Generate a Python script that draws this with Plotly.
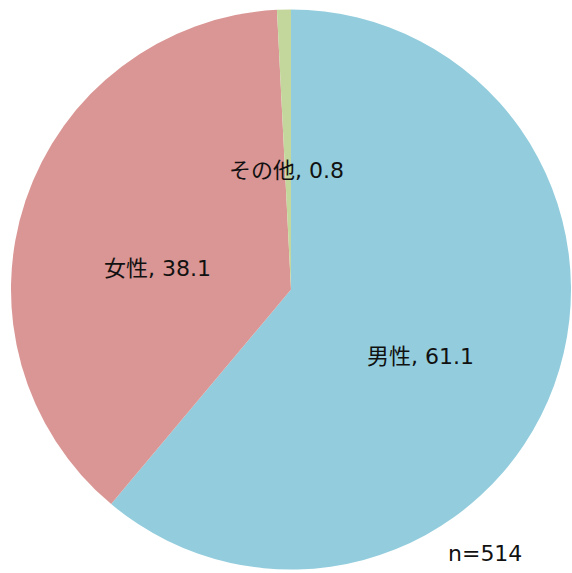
import plotly.graph_objects as go

labels = ["男性", "女性", "その他"]
values = [61.1, 38.1, 0.8]
colors = ["#93CDDD", "#D99694", "#C3D69B"]
n_label = "n=514"

# label anchor positions (paper coords) for each slice label
label_x = [0.735, 0.275, 0.50]
label_y = [0.377, 0.532, 0.703]

W, H = 572, 573
fig = go.Figure(go.Pie(
    labels=labels, values=values, sort=False, direction="clockwise", rotation=0,
    marker=dict(colors=colors, line=dict(color="white", width=0)),
    textinfo="none", hoverinfo="label+value",
    domain=dict(x=[11/W, 571/W], y=[1-571/H, 1-8/H]),
    showlegend=False,
))

font = dict(family="DejaVu Sans, Noto Sans CJK JP, sans-serif", size=22, color="#111111")
for lab, v, x, y in zip(labels, values, label_x, label_y):
    fig.add_annotation(text=f"{lab}, {v}", x=x, y=y, xref="paper", yref="paper",
                       showarrow=False, font=font, xanchor="center", yanchor="middle")
fig.add_annotation(text=n_label, x=0.848, y=1-553/H, xref="paper", yref="paper",
                   showarrow=False, font=font, xanchor="center", yanchor="middle")

fig.update_layout(width=W, height=H, margin=dict(l=0, r=0, t=0, b=0),
                  paper_bgcolor="white", plot_bgcolor="white")
fig.write_html("out.html", config={"displayModeBar": False},
               post_script="document.body.style.margin='0';document.body.style.overflow='hidden';")
